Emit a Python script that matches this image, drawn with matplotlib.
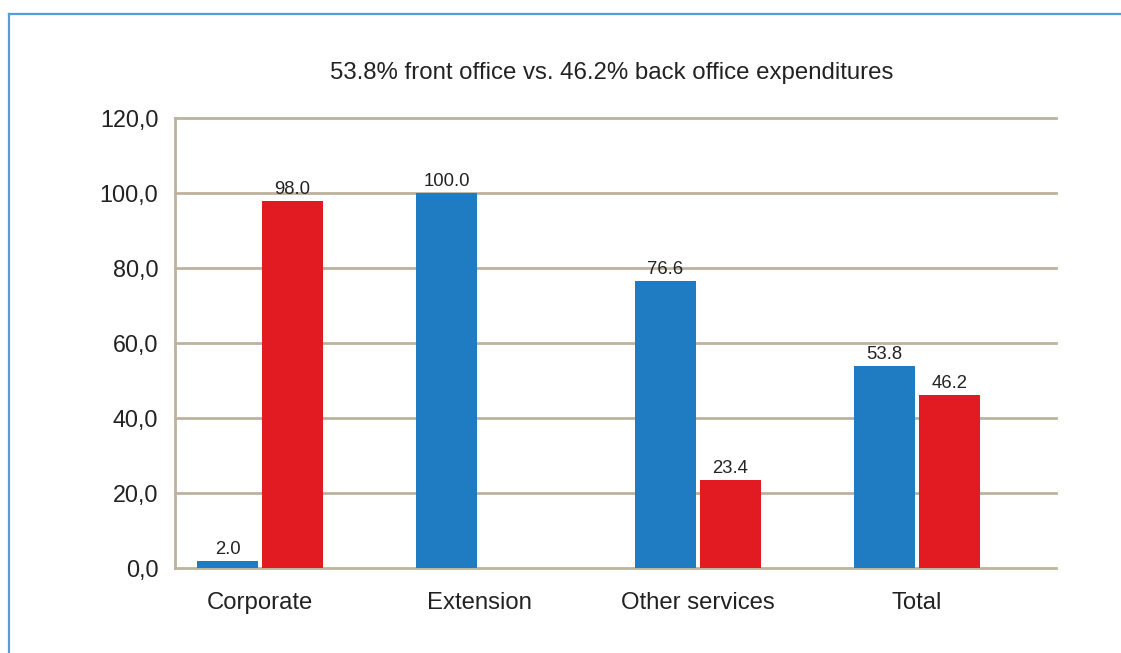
import matplotlib.pyplot as plt
import numpy as np
from matplotlib.lines import Line2D

plt.rcParams['font.family'] = ['Liberation Sans', 'DejaVu Sans']

categories = ['Corporate', 'Extension', 'Other services', 'Total']
front_office = [2.0, 100.0, 76.6, 53.8]
back_office = [98.0, 0.0, 23.4, 46.2]
yticks = [0, 20, 40, 60, 80, 100, 120]
title = '53.8% front office vs. 46.2% back office expenditures'

blue = '#1f7bc2'
red = '#e21a22'
grid_col = '#bcb29e'

fig = plt.figure(figsize=(11.21, 6.53), dpi=100)
ax = fig.add_axes([175/1121, 1 - 568/653, (1056-175)/1121, (568-118)/653])

x = np.arange(len(categories))
w = 0.278
off = 0.148
b1 = ax.bar(x - off, front_office, w, color=blue, zorder=3)
b2 = ax.bar(x + off, back_office, w, color=red, zorder=3)

for bars, vals in ((b1, front_office), (b2, back_office)):
    for b, v in zip(bars, vals):
        if v == 0:
            continue
        ax.text(b.get_x() + b.get_width()/2, v + 0.8, f'{v:.1f}',
                ha='center', va='bottom', fontsize=13.3, color='#222222', zorder=4)

ax.set_xlim(-0.388, 3.635)
ax.set_ylim(0, 120)
ax.set_yticks(yticks)
ax.set_yticklabels([f'{t:.1f}'.replace('.', ',') for t in yticks], fontsize=16.8, color='#222222')
ax.set_xticks(x)
ax.set_xticklabels(categories, fontsize=17.2, color='#222222')
ax.tick_params(axis='both', length=0)
ax.tick_params(axis='x', pad=17)
ax.tick_params(axis='y', pad=12)

ax.yaxis.grid(True, color=grid_col, linewidth=2.0, zorder=0)
for gl in ax.get_ygridlines():
    gl.set_clip_on(False)
for s in ['top', 'right', 'bottom']:
    ax.spines[s].set_visible(False)
ax.spines['left'].set_color(grid_col)
ax.spines['left'].set_linewidth(2.0)

fig.text(611.5/1121, 1 - 73/653, title, ha='center', va='center', fontsize=17.3, color='#222222')

# frame lines at top and left
fig.add_artist(Line2D([9/1121, 1], [1 - 14/653, 1 - 14/653], color='#5b9bd5', linewidth=1.6))
fig.add_artist(Line2D([9/1121, 9/1121], [0, 1 - 14/653], color='#5b9bd5', linewidth=1.6))

fig.savefig('out.png', dpi=100)
